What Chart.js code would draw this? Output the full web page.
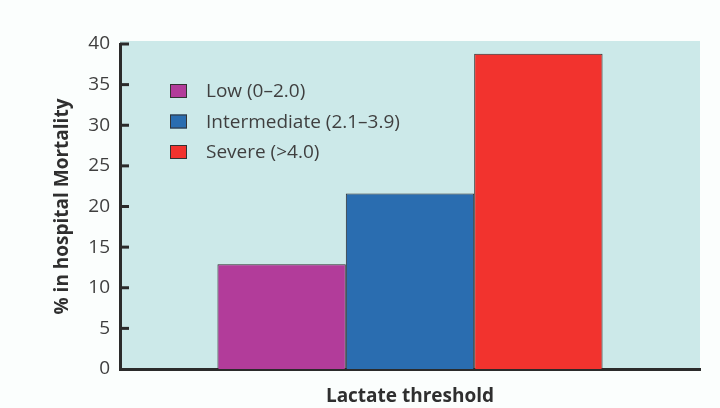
<!DOCTYPE html>
<html>
<head>
<meta charset="utf-8">
<script src="https://cdn.jsdelivr.net/npm/chart.js@4"></script>
<style>
  html, body { margin: 0; padding: 0; background: #fbfefd; }
  #wrap { width: 720px; height: 408px; }
</style>
</head>
<body>
<div id="wrap"><canvas id="chart" width="720" height="408"></canvas></div>
<script>
// values
const categories = ['Lactate threshold'];
const groupLabels = ['Low (0\u20132.0)', 'Intermediate (2.1\u20133.9)', 'Severe (>4.0)'];
const mortality = [12.9, 21.6, 38.8];
const barColours = ['#b23c9a', '#2a6db0', '#f2332e'];
const yTicks = [0, 5, 10, 15, 20, 25, 30, 35, 40];

const axisColour = '#2b2b2b';
const textColour = '#3f3f3f';
const fontFamily = '"Open Sans", "Noto Sans", sans-serif';

// light cyan plot background
const plotBackground = {
    id: 'plotBackground',
    beforeDraw(chart) {
        const { ctx, chartArea } = chart;
        ctx.save();
        ctx.fillStyle = '#cce9e9';
        ctx.fillRect(chartArea.left, chartArea.top - 3, chartArea.right - chartArea.left, chartArea.bottom - chartArea.top + 3);
        ctx.restore();
    }
};

// tick marks pointing into the plot
const innerTicks = {
    id: 'innerTicks',
    afterDraw(chart) {
        const { ctx, chartArea } = chart;
        const y = chart.scales.y;
        ctx.save();
        ctx.strokeStyle = axisColour;
        ctx.lineWidth = 3;
        y.ticks.forEach(t => {
            if (t.value === 0) return;
            const py = y.getPixelForValue(t.value);
            ctx.beginPath();
            ctx.moveTo(chartArea.left, py);
            ctx.lineTo(chartArea.left + 9, py);
            ctx.stroke();
        });
        ctx.restore();
    }
};

// legend box inside the plot, top-left
const insideLegend = {
    id: 'insideLegend',
    afterDraw(chart) {
        const { ctx, chartArea } = chart;
        ctx.save();
        ctx.font = '19px ' + fontFamily;
        ctx.textBaseline = 'middle';
        chart.data.datasets.forEach((ds, i) => {
            const cy = chartArea.top + 47 + i * 30.5;
            const bx = chartArea.left + 50;
            ctx.fillStyle = ds.backgroundColor;
            ctx.fillRect(bx, cy - 7, 17, 14);
            ctx.strokeStyle = '#333333';
            ctx.lineWidth = 1;
            ctx.strokeRect(bx + 0.5, cy - 6.5, 16, 13);
            ctx.fillStyle = textColour;
            ctx.fillText(ds.label, bx + 36, cy + 1);
        });
        ctx.restore();
    }
};

const datasets = groupLabels.map((label, i) => ({
    label: label,
    data: [mortality[i]],
    backgroundColor: barColours[i],
    borderColor: '#2e2e2e',
    borderWidth: 1,
    borderSkipped: 'bottom',
    barPercentage: 1,
    categoryPercentage: 0.664
}));

new Chart(document.getElementById('chart'), {
    type: 'bar',
    data: { labels: categories, datasets: datasets },
    options: {
        responsive: false,
        animation: false,
        layout: { padding: { top: 44, right: 20, left: 0, bottom: 0 } },
        plugins: {
            legend: { display: false },
            tooltip: { enabled: false }
        },
        scales: {
            x: {
                grid: { display: false },
                border: { display: true, color: axisColour, width: 3 },
                ticks: { display: false },
                title: {
                    display: true,
                    text: 'Lactate threshold',
                    color: '#2f2f2f',
                    font: { family: fontFamily, size: 19, weight: 'bold' },
                    padding: { top: 0, bottom: 0 }
                },
                afterFit(scale) { scale.height = 39; }
            },
            y: {
                min: 0,
                max: 40,
                afterBuildTicks(scale) { scale.ticks = yTicks.map(v => ({ value: v })); },
                grid: { display: false, drawTicks: false },
                border: { display: true, color: axisColour, width: 3 },
                ticks: {
                    padding: 10,
                    color: textColour,
                    font: { family: fontFamily, size: 19 }
                },
                title: {
                    display: true,
                    text: '% in hospital Mortality',
                    color: '#2f2f2f',
                    font: { family: fontFamily, size: 19, weight: 'bold' },
                    padding: { top: 51, bottom: 0 }
                },
                afterFit(scale) { scale.width = 120; }
            }
        }
    },
    plugins: [plotBackground, innerTicks, insideLegend]
});
</script>
</body>
</html>
